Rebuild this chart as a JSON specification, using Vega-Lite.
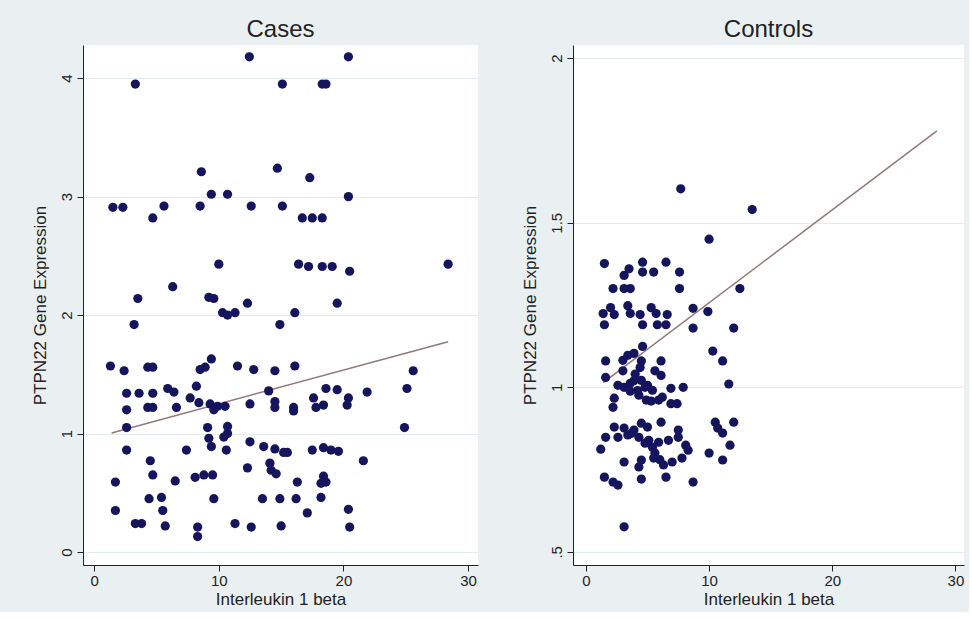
{
  "$schema": "https://vega.github.io/schema/vega-lite/v6.json",
  "background": "#eaf0f2",
  "padding": {"left": 31, "top": 18, "right": 5, "bottom": 5},
  "spacing": 42,
  "config": {
    "font": "Liberation Sans",
    "view": {"fill": "white", "stroke": null},
    "axis": {
      "labelFont": "Liberation Sans",
      "titleFont": "Liberation Sans",
      "labelFontSize": 15,
      "titleFontSize": 17,
      "titleFontWeight": "normal",
      "labelColor": "#222",
      "titleColor": "#222",
      "domainColor": "#222",
      "tickColor": "#222",
      "tickSize": 6,
      "gridColor": "#e4ecee",
      "gridWidth": 1
    },
    "title": {"font": "Liberation Sans", "fontSize": 24, "fontWeight": "normal", "color": "#222", "offset": 3}
  },
  "datasets": {
    "cases": [
      {"x":12.45,"y":4.18},{"x":20.4,"y":4.18},{"x":3.3,"y":3.95},{"x":15.1,"y":3.95},{"x":18.3,"y":3.95},{"x":18.6,"y":3.95},
      {"x":8.6,"y":3.21},{"x":14.7,"y":3.24},{"x":17.3,"y":3.16},{"x":9.4,"y":3.02},{"x":10.7,"y":3.02},{"x":20.4,"y":3.0},
      {"x":1.5,"y":2.91},{"x":2.3,"y":2.91},{"x":5.6,"y":2.92},{"x":8.5,"y":2.92},{"x":12.6,"y":2.92},{"x":15.1,"y":2.92},
      {"x":4.7,"y":2.82},{"x":16.7,"y":2.82},{"x":17.5,"y":2.82},{"x":18.3,"y":2.82},
      {"x":10.0,"y":2.43},{"x":16.4,"y":2.43},{"x":17.2,"y":2.41},{"x":18.3,"y":2.41},{"x":19.1,"y":2.41},{"x":20.5,"y":2.37},{"x":28.4,"y":2.43},
      {"x":6.3,"y":2.24},{"x":3.5,"y":2.14},{"x":9.2,"y":2.15},{"x":9.6,"y":2.14},{"x":12.3,"y":2.1},{"x":19.5,"y":2.1},
      {"x":10.3,"y":2.02},{"x":10.7,"y":2.0},{"x":11.3,"y":2.02},{"x":16.1,"y":2.02},{"x":3.2,"y":1.92},{"x":14.9,"y":1.92},
      {"x":1.3,"y":1.57},{"x":2.4,"y":1.53},{"x":4.3,"y":1.56},{"x":4.7,"y":1.56},{"x":8.5,"y":1.54},{"x":8.9,"y":1.56},{"x":9.4,"y":1.63},{"x":11.5,"y":1.57},{"x":12.8,"y":1.54},{"x":14.5,"y":1.53},{"x":16.1,"y":1.57},{"x":25.6,"y":1.53},
      {"x":25.1,"y":1.38},{"x":24.9,"y":1.05},{"x":21.9,"y":1.35},
      {"x":2.6,"y":1.34},{"x":3.6,"y":1.34},{"x":4.7,"y":1.34},{"x":5.9,"y":1.38},{"x":6.4,"y":1.35},{"x":8.2,"y":1.4},{"x":7.7,"y":1.3},{"x":8.4,"y":1.26},{"x":9.3,"y":1.25},{"x":9.9,"y":1.23},{"x":10.5,"y":1.23},{"x":9.6,"y":1.2},{"x":6.6,"y":1.22},{"x":2.6,"y":1.2},{"x":4.3,"y":1.22},{"x":4.7,"y":1.22},{"x":12.5,"y":1.25},{"x":14.0,"y":1.36},{"x":14.5,"y":1.27},{"x":14.5,"y":1.22},{"x":16.0,"y":1.22},{"x":16.0,"y":1.19},{"x":17.6,"y":1.3},{"x":17.8,"y":1.22},{"x":18.4,"y":1.24},{"x":18.6,"y":1.38},{"x":19.5,"y":1.37},{"x":20.4,"y":1.3},{"x":20.3,"y":1.24},
      {"x":2.6,"y":1.05},{"x":9.1,"y":1.05},{"x":9.2,"y":0.96},{"x":9.4,"y":0.89},{"x":10.7,"y":1.06},{"x":10.7,"y":1.0},{"x":10.4,"y":0.97},{"x":10.6,"y":0.86},{"x":2.6,"y":0.86},{"x":7.4,"y":0.86},{"x":12.5,"y":0.93},{"x":13.6,"y":0.89},{"x":14.5,"y":0.87},{"x":15.2,"y":0.84},{"x":15.5,"y":0.84},{"x":17.5,"y":0.86},{"x":18.4,"y":0.88},{"x":19.0,"y":0.86},{"x":19.6,"y":0.85},
      {"x":21.6,"y":0.77},{"x":4.5,"y":0.77},{"x":4.7,"y":0.65},{"x":1.7,"y":0.59},{"x":6.5,"y":0.6},{"x":8.1,"y":0.63},{"x":8.8,"y":0.65},{"x":9.5,"y":0.65},{"x":12.3,"y":0.71},{"x":14.1,"y":0.75},{"x":14.2,"y":0.69},{"x":14.6,"y":0.66},{"x":16.3,"y":0.59},{"x":18.4,"y":0.64},{"x":18.6,"y":0.59},{"x":18.2,"y":0.58},
      {"x":4.4,"y":0.45},{"x":5.4,"y":0.46},{"x":9.6,"y":0.45},{"x":13.5,"y":0.45},{"x":14.9,"y":0.45},{"x":16.2,"y":0.45},{"x":18.2,"y":0.46},
      {"x":1.7,"y":0.35},{"x":5.5,"y":0.35},{"x":17.1,"y":0.33},{"x":20.4,"y":0.36},
      {"x":3.3,"y":0.24},{"x":3.8,"y":0.24},{"x":5.7,"y":0.22},{"x":8.3,"y":0.21},{"x":8.3,"y":0.13},{"x":11.3,"y":0.24},{"x":12.6,"y":0.21},{"x":15.0,"y":0.22},{"x":20.5,"y":0.21}
    ],
    "controls": [
      {"x":7.7,"y":1.603},{"x":13.5,"y":1.54},{"x":10.0,"y":1.45},
      {"x":1.5,"y":1.376},{"x":3.5,"y":1.36},{"x":4.6,"y":1.38},{"x":4.6,"y":1.35},{"x":5.5,"y":1.35},{"x":6.5,"y":1.38},{"x":7.6,"y":1.35},{"x":3.1,"y":1.34},
      {"x":2.2,"y":1.3},{"x":3.1,"y":1.3},{"x":3.6,"y":1.3},{"x":7.6,"y":1.3},{"x":12.5,"y":1.3},
      {"x":1.4,"y":1.224},{"x":2.0,"y":1.242},{"x":2.3,"y":1.221},{"x":3.4,"y":1.248},{"x":3.6,"y":1.224},{"x":4.4,"y":1.221},{"x":5.3,"y":1.242},{"x":5.7,"y":1.224},{"x":6.6,"y":1.221},
      {"x":1.5,"y":1.19},{"x":4.6,"y":1.19},{"x":5.8,"y":1.19},{"x":6.5,"y":1.19},
      {"x":8.7,"y":1.24},{"x":9.9,"y":1.23},{"x":8.7,"y":1.18},{"x":12.0,"y":1.18},
      {"x":4.6,"y":1.124},{"x":3.9,"y":1.103},{"x":3.4,"y":1.097},{"x":3.0,"y":1.082},{"x":1.6,"y":1.08},{"x":10.3,"y":1.11},{"x":11.1,"y":1.08},{"x":6.1,"y":1.08},{"x":4.5,"y":1.08},
      {"x":1.6,"y":1.03},{"x":2.6,"y":1.006},{"x":3.1,"y":1.0},{"x":3.6,"y":1.012},{"x":4.5,"y":1.021},{"x":5.0,"y":1.006},{"x":5.4,"y":0.991},{"x":6.1,"y":1.036},{"x":3.6,"y":0.988},{"x":4.3,"y":0.976},{"x":4.9,"y":0.961},{"x":5.3,"y":0.958},{"x":5.9,"y":0.961},{"x":2.3,"y":0.967},{"x":2.2,"y":0.939},
      {"x":6.9,"y":0.997},{"x":7.9,"y":1.0},{"x":6.2,"y":0.97},{"x":6.9,"y":0.95},{"x":7.4,"y":0.95},{"x":11.6,"y":1.01},
      {"x":4.0,"y":1.04},{"x":4.8,"y":1.0},{"x":4.2,"y":0.99},{"x":3.0,"y":1.05},{"x":5.6,"y":1.05},{"x":4.4,"y":1.06},{"x":3.9,"y":1.02},
      {"x":2.3,"y":0.879},{"x":3.1,"y":0.876},{"x":3.9,"y":0.87},{"x":4.5,"y":0.891},{"x":5.0,"y":0.879},{"x":6.1,"y":0.894},{"x":7.5,"y":0.87},{"x":7.5,"y":0.848},{"x":1.6,"y":0.848},{"x":2.6,"y":0.848},{"x":3.4,"y":0.855},{"x":4.3,"y":0.848},{"x":5.1,"y":0.839},{"x":5.9,"y":0.833},{"x":5.4,"y":0.818},{"x":6.7,"y":0.839},{"x":8.1,"y":0.824},{"x":1.2,"y":0.812},{"x":3.1,"y":0.773},{"x":4.5,"y":0.779},{"x":5.5,"y":0.785},{"x":6.3,"y":0.764},{"x":7.0,"y":0.773},{"x":7.8,"y":0.785},{"x":8.3,"y":0.809},{"x":4.3,"y":0.758},{"x":1.5,"y":0.727},{"x":2.2,"y":0.712},{"x":2.6,"y":0.703},{"x":4.5,"y":0.721},{"x":6.5,"y":0.727},{"x":8.7,"y":0.712},{"x":3.1,"y":0.576},
      {"x":10.5,"y":0.894},{"x":10.7,"y":0.876},{"x":11.1,"y":0.861},{"x":12.0,"y":0.894},{"x":11.7,"y":0.824},{"x":10.0,"y":0.8},{"x":11.1,"y":0.779},
      {"x":4.8,"y":0.83},{"x":5.6,"y":0.8},{"x":6.0,"y":0.78},{"x":3.7,"y":0.86}
    ],
    "fitCases": [{"x":1.4,"y":1.005},{"x":28.4,"y":1.775}],
    "fitControls": [{"x":1.4,"y":1.014},{"x":28.5,"y":1.779}]
  },
  "hconcat": [
    {
      "title": "Cases",
      "width": 395,
      "height": 520,
      "layer": [
        {
          "data": {"name": "fitCases"},
          "mark": {"type": "line", "color": "#927878", "strokeWidth": 1.5},
          "encoding": {
            "x": {"field": "x", "type": "quantitative"},
            "y": {"field": "y", "type": "quantitative"}
          }
        },
        {
          "data": {"name": "cases"},
          "mark": {"type": "circle", "size": 85, "color": "#15155e", "opacity": 1},
          "encoding": {
            "x": {"field": "x", "type": "quantitative", "scale": {"domain": [-0.9, 30.8], "nice": false, "zero": false},
                  "axis": {"title": "Interleukin 1 beta", "values": [0, 10, 20, 30], "grid": false, "labelPadding": 2, "titlePadding": 3}},
            "y": {"field": "y", "type": "quantitative", "scale": {"domain": [-0.11, 4.28], "nice": false, "zero": false},
                  "axis": {"title": "PTPN22 Gene Expression", "values": [0, 1, 2, 3, 4], "format": "d", "grid": true, "labelAngle": 270, "labelAlign": "center", "labelBaseline": "bottom", "labelPadding": 3, "titlePadding": 10}}
          }
        }
      ]
    },
    {
      "title": "Controls",
      "width": 391,
      "height": 520,
      "layer": [
        {
          "data": {"name": "fitControls"},
          "mark": {"type": "line", "color": "#927878", "strokeWidth": 1.5},
          "encoding": {
            "x": {"field": "x", "type": "quantitative"},
            "y": {"field": "y", "type": "quantitative"}
          }
        },
        {
          "data": {"name": "controls"},
          "mark": {"type": "circle", "size": 85, "color": "#15155e", "opacity": 1},
          "encoding": {
            "x": {"field": "x", "type": "quantitative", "scale": {"domain": [-1.05, 30.7], "nice": false, "zero": false},
                  "axis": {"title": "Interleukin 1 beta", "values": [0, 10, 20, 30], "grid": false, "labelPadding": 2, "titlePadding": 3}},
            "y": {"field": "y", "type": "quantitative", "scale": {"domain": [0.46, 2.04], "nice": false, "zero": false},
                  "axis": {"title": "PTPN22 Gene Expression", "values": [0.5, 1, 1.5, 2], "labelExpr": "datum.value == 0.5 ? '.5' : format(datum.value, '~g')", "grid": true, "labelAngle": 270, "labelAlign": "center", "labelBaseline": "bottom", "labelPadding": 3, "titlePadding": 10}}
          }
        }
      ]
    }
  ]
}
